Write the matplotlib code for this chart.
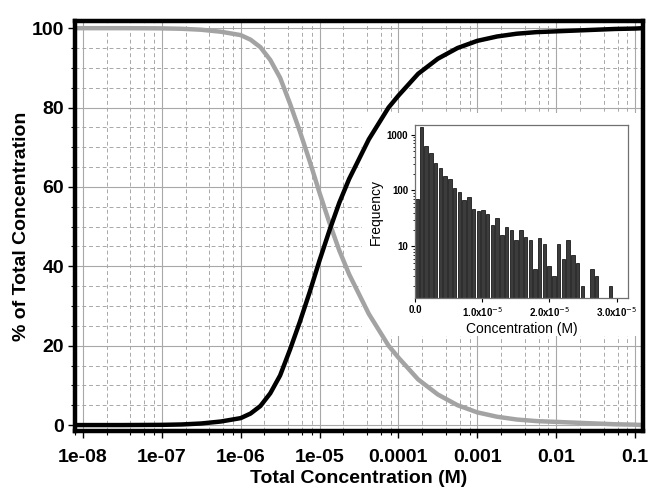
import matplotlib
matplotlib.use("Agg")
import matplotlib.pyplot as plt
from matplotlib.patches import Rectangle
from matplotlib.ticker import FixedLocator, LogLocator, NullFormatter
import numpy as np

plt.rcParams['font.family'] = ['Liberation Sans', 'DejaVu Sans']

# main curves (log10 of total concentration)
log_conc = [-8.1, -7.5, -7.0, -6.75, -6.5, -6.25, -6.0, -5.875, -5.75, -5.625, -5.5,
            -5.375, -5.25, -5.125, -5.0, -4.875, -4.75, -4.625, -4.5, -4.375, -4.25,
            -4.125, -4.0, -3.75, -3.5, -3.25, -3.0, -2.75, -2.5, -2.25, -2.0, -1.75,
            -1.5, -1.25, -1.0, -0.9]
black_pct = [0.0, 0.0, 0.05, 0.15, 0.4, 0.9, 1.75, 2.9, 4.8, 8.0, 12.5,
             19.0, 26.0, 33.5, 41.5, 49.0, 56.0, 62.0, 67.0, 72.0, 76.0,
             80.0, 83.0, 88.5, 92.3, 95.0, 96.8, 97.9, 98.6, 99.0, 99.2, 99.4,
             99.6, 99.8, 99.9, 100.0]
gray_pct = [100.0, 100.0, 99.95, 99.85, 99.6, 99.1, 98.25, 97.1, 95.2, 92.0, 87.5,
            81.0, 74.0, 66.5, 58.5, 51.0, 44.0, 38.0, 33.0, 28.0, 24.0,
            20.0, 17.0, 11.5, 7.7, 5.0, 3.2, 2.1, 1.4, 1.0, 0.8, 0.6,
            0.4, 0.2, 0.1, 0.0]

xtick_vals = [1e-8, 1e-7, 1e-6, 1e-5, 1e-4, 1e-3, 1e-2, 1e-1]
xtick_labels = ['1e-08', '1e-07', '1e-06', '1e-05', '0.0001', '0.001', '0.01', '0.1']
ytick_vals = [0, 20, 40, 60, 80, 100]

# inset histogram counts (bins of ~0.7e-6 M)
hist_counts = [71, 1390, 620, 464, 312, 251, 183, 162, 113, 95, 68, 78, 47, 43,
               45, 38, 24, 32, 16, 22, 20, 13, 20, 15, 13, 4, 14, 11, 4.5, 3,
               11, 6, 13, 7, 5, 2, 1, 4, 3, 1, 1, 2]
bin_width = 0.704e-6
inset_xticks = [0.0, 1.0e-5, 2.0e-5, 3.0e-5]
inset_xlabels = ['0.0', r'1.0x10$^{-5}$', r'2.0x10$^{-5}$', r'3.0x10$^{-5}$']
inset_yticks = [10, 100, 1000]

fig = plt.figure(figsize=(6.72, 4.98), dpi=100)
ax = fig.add_axes([0.1116, 0.1345, 0.8452, 0.8233])

conc = 10.0 ** np.array(log_conc)
ax.plot(conc, gray_pct, color='#a3a3a3', lw=3.2, zorder=2, solid_capstyle='butt')
ax.plot(conc, black_pct, color='black', lw=3.2, zorder=3, solid_capstyle='butt')

ax.set_xscale('log')
ax.set_xlim(10 ** -8.101, 10 ** -0.899)
ax.set_ylim(-1.5, 101.8)
ax.set_xticks(xtick_vals)
ax.set_xticklabels(xtick_labels)
ax.xaxis.set_minor_locator(LogLocator(base=10, subs=[2, 4, 6, 8], numticks=30))
ax.xaxis.set_minor_formatter(NullFormatter())
ax.set_yticks(ytick_vals)
ax.yaxis.set_minor_locator(FixedLocator(np.arange(0, 101, 5)))

ax.set_axisbelow(True)
ax.grid(which='major', color='#a8a8a8', lw=0.8, ls='-')
ax.grid(which='minor', color='#a8a8a8', lw=0.7, ls=(0, (4, 3)))

for lab in ax.get_xticklabels() + ax.get_yticklabels():
    lab.set_fontweight('bold')
    lab.set_fontsize(14)
ax.tick_params(which='major', length=5, width=1, direction='out')
ax.tick_params(axis='x', which='major', pad=8)
ax.tick_params(axis='y', which='major', pad=3)
ax.tick_params(which='minor', length=3, width=0.8, direction='out')
for s in ax.spines.values():
    s.set_linewidth(3.2)

ax.set_xlabel('Total Concentration (M)', fontsize=14, fontweight='bold', labelpad=3)
ax.set_ylabel('% of Total Concentration', fontsize=14, fontweight='bold', labelpad=1)

# white backing behind the inset
ax.add_patch(Rectangle((0.505, 0.232), 0.495, 0.544, transform=ax.transAxes,
                       facecolor='white', edgecolor='none', zorder=1))

ins = fig.add_axes([0.6176, 0.4016, 0.3169, 0.3474])
ins.set_zorder(5)
lefts = np.arange(len(hist_counts)) * bin_width
ins.bar(lefts, hist_counts, width=bin_width * 0.74, align='edge',
        color='#3c3c3c', edgecolor='black', linewidth=0.5)
ins.set_yscale('log')
ins.set_ylim(1.2, 1480)
ins.set_xlim(0, 3.17e-5)
ins.set_xticks(inset_xticks)
ins.set_xticklabels(inset_xlabels)
ins.set_yticks(inset_yticks)
ins.set_yticklabels(['10', '100', '1000'])
ins.yaxis.set_minor_formatter(NullFormatter())
for lab in ins.get_xticklabels() + ins.get_yticklabels():
    lab.set_fontweight('bold')
    lab.set_fontsize(7)
ins.tick_params(which='major', length=3, width=0.8, pad=2)
ins.tick_params(which='minor', length=1.5, width=0.6)
for s in ins.spines.values():
    s.set_linewidth(0.9)
    s.set_color('#707070')
ins.set_xlabel('Concentration (M)', fontsize=10, labelpad=2)
ins.set_ylabel('Frequency', fontsize=10, labelpad=3)

fig.savefig('out.png', dpi=100)
